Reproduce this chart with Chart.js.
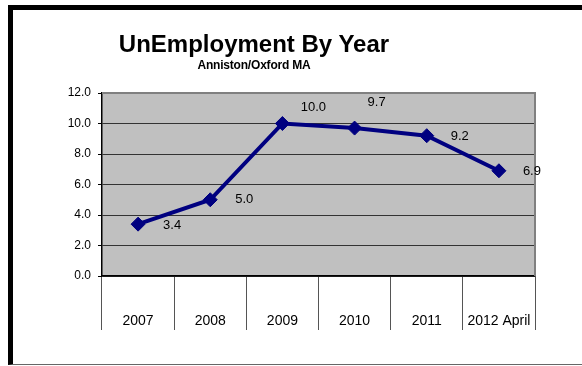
<!DOCTYPE html>
<html>
<head>
<meta charset="utf-8">
<script src="https://cdn.jsdelivr.net/npm/chart.js@4"></script>
<style>
  html, body { margin: 0; padding: 0; background: #fff; }
  #wrap { position: relative; width: 582px; height: 366px; overflow: hidden; }
  #frame { position: absolute; left: 8px; top: 5px; right: -10px; bottom: 1px;
           border-left: 5px solid #000; border-top: 5px solid #000; border-bottom: 1px solid #666; }
  canvas { position: absolute; left: 0; top: 0; }
  .t { position: absolute; left: 0; width: 508px; text-align: center; font-family: "Liberation Sans", Arial, sans-serif; font-weight: bold; color: #000; white-space: nowrap; }
  #title { top: 32px; font-size: 24px; line-height: 24px; }
  #sub { top: 59px; font-size: 12px; line-height: 12px; letter-spacing: -0.2px; }
</style>
</head>
<body>
<div id="wrap">
  <div id="frame"></div>
  <canvas id="c" width="582" height="366"></canvas>
  <div class="t" id="title">UnEmployment By Year</div>
  <div class="t" id="sub">Anniston/Oxford MA</div>
</div>
<script>
const categories = ["2007", "2008", "2009", "2010", "2011", "2012 April"];
const rates = [3.4, 5.0, 10.0, 9.7, 9.2, 6.9];
const yTicks = [0, 2, 4, 6, 8, 10, 12];

// label offsets (px) relative to each point, as placed in the original
const labelOffsets = [[34, 1], [34, 0], [31, -16], [22, -26], [33, 1], [33, 1]];

const FONT = '"Liberation Sans", Arial, sans-serif';

const plotBg = {
  id: 'plotBg',
  beforeDraw(chart) {
    const {ctx, chartArea: a} = chart;
    ctx.save();
    ctx.fillStyle = '#C0C0C0';
    ctx.fillRect(a.left, a.top, a.right - a.left, a.bottom - a.top);
    ctx.restore();
  },
  beforeDatasetsDraw(chart) {
    const {ctx, chartArea: a} = chart;
    ctx.save();
    ctx.strokeStyle = '#808080';
    ctx.lineWidth = 2;
    ctx.beginPath();
    ctx.moveTo(a.left, a.top);
    ctx.lineTo(a.right, a.top);
    ctx.lineTo(a.right, a.bottom);
    ctx.stroke();
    ctx.restore();
  }
};

const valueLabels = {
  id: 'valueLabels',
  afterDraw(chart) {
    const {ctx} = chart;
    const meta = chart.getDatasetMeta(0);
    ctx.save();
    ctx.font = '13px ' + FONT;
    ctx.fillStyle = '#000';
    ctx.textAlign = 'center';
    ctx.textBaseline = 'middle';
    meta.data.forEach((pt, i) => {
      const off = labelOffsets[i];
      ctx.fillText(rates[i].toFixed(1), pt.x + off[0], pt.y + off[1]);
    });
    ctx.restore();
  }
};

new Chart(document.getElementById('c'), {
  type: 'line',
  data: {
    labels: categories,
    datasets: [{
      data: rates,
      borderColor: '#000080',
      backgroundColor: '#000080',
      borderWidth: 4,
      pointStyle: 'rectRot',
      pointRadius: 7,
      pointHoverRadius: 7,
      pointBorderWidth: 1,
      tension: 0,
      fill: false
    }]
  },
  options: {
    responsive: false,
    animation: false,
    events: [],
    layout: { padding: { left: 42, right: 47, top: 93, bottom: 30 } },
    plugins: { legend: { display: false }, title: { display: false }, tooltip: { enabled: false } },
    scales: {
      x: {
        type: 'category',
        offset: true,
        afterFit(s) { s.height = 60; },
        grid: { offset: true, drawOnChartArea: false, drawTicks: true, tickLength: 54, color: '#555', lineWidth: 1 },
        border: { display: true, color: '#000', width: 1.5 },
        ticks: { color: '#000', padding: -17, maxRotation: 0, autoSkip: false,
                 font: { family: FONT, size: 14 } }
      },
      y: {
        min: yTicks[0],
        max: yTicks[yTicks.length - 1],
        afterFit(s) { s.width = 60; },
        afterBuildTicks(s) { s.ticks = yTicks.map(v => ({ value: v })); },
        grid: { color: '#333', lineWidth: 1, tickLength: 4, tickColor: '#000' },
        border: { display: true, color: '#000', width: 1.5 },
        ticks: { color: '#000', padding: 7, callback: v => Number(v).toFixed(1),
                 font: { family: FONT, size: 12 } }
      }
    }
  },
  plugins: [plotBg, valueLabels]
});
</script>
</body>
</html>
